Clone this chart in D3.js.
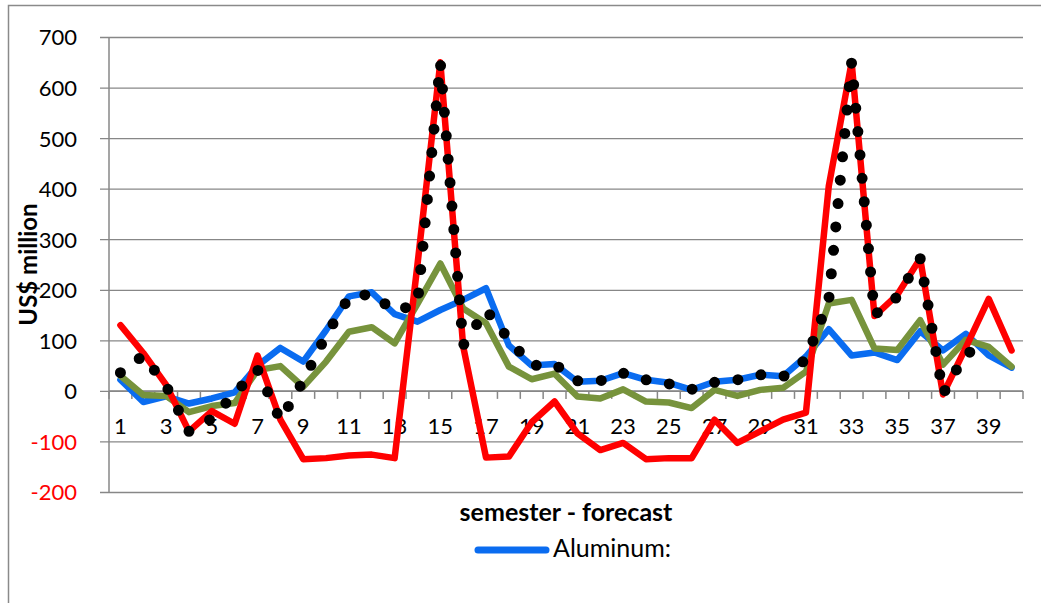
<!DOCTYPE html>
<html>
<head>
<meta charset="utf-8">
<script src="https://cdn.jsdelivr.net/npm/d3@7"></script>
<style>
  html, body { margin: 0; padding: 0; background: #fff; }
  svg { display: block; }
  text { font-family: Lato, "Open Sans", sans-serif; }
</style>
</head>
<body>
<svg id="chart" width="1041" height="603"></svg>
<script>
// ---- data ----
const categories = [1,2,3,4,5,6,7,8,9,10,11,12,13,14,15,16,17,18,19,20,
                    21,22,23,24,25,26,27,28,29,30,31,32,33,34,35,36,37,38,39,40];
const aluminum = [22,-22,-11,-25,-15,-3,50,85,58,120,187,195,152,137,160,180,203,90,50,53,
                  18,20,35,22,16,2,18,22,32,29,68,122,70,76,61,118,80,113,70,46];
const greenSeries = [30,-8,-10,-42,-30,-24,41,49,8,58,117,126,94,172,252,163,134,48,23,34,
                     -11,-15,3,-21,-23,-34,2,-10,2,6,38,173,180,84,81,140,52,101,87,48];
const redSeries = [130,75,12,-80,-40,-65,70,-57,-135,-133,-128,-126,-133,250,650,88,-132,-130,-62,-21,
                   -84,-117,-103,-135,-133,-133,-57,-103,-80,-57,-43,405,650,148,190,262,-7,86,182,80];
const dottedSeries = [36,70,10,-80,-55,-5,42,-58,20,110,185,192,158,172,650,90,160,102,50,53,
                      20,20,35,22,14,3,17,22,32,28,62,180,650,150,186,262,-6,75,84,null];
const yTicks = [-200,-100,0,100,200,300,400,500,600,700];
const xLabels = categories.filter(c => c % 2 === 1);
const yTitle = "US$ million";
const xTitle = "semester - forecast";
const legendLabel = "Aluminum:";

// ---- layout ----
const svg = d3.select("#chart");
const plot = {left: 109, right: 1023, top: 37, bottom: 492};
const gridColor = "#878787";

svg.append("rect").attr("x", 8.5).attr("y", 5.5).attr("width", 1200).attr("height", 800)
   .attr("fill", "none").attr("stroke", "#8a8a8a").attr("stroke-width", 1.5);

const x = d3.scaleBand().domain(categories).range([plot.left, plot.right]).padding(0);
const y = d3.scaleLinear().domain([-200, 700]).range([plot.bottom, plot.top]);
const cx = c => x(c) + x.bandwidth() / 2;

// gridlines + y axis
const yAxis = d3.axisLeft(y).tickValues(yTicks).tickSize(plot.right - plot.left + 9).tickFormat(d => d);
const gy = svg.append("g").attr("transform", `translate(${plot.right},0)`).call(yAxis);
gy.select(".domain").remove();
gy.selectAll(".tick line").attr("stroke", gridColor).attr("stroke-width", 1.3);
gy.selectAll(".tick text")
  .attr("x", -(plot.right - 77))
  .attr("dy", "0.36em")
  .style("font-size", "22px")
  .attr("fill", d => d < 0 ? "#ff0000" : "#000")
  .attr("text-anchor", "end");
svg.append("line").attr("x1", plot.left).attr("x2", plot.left)
   .attr("y1", plot.top).attr("y2", plot.bottom)
   .attr("stroke", gridColor).attr("stroke-width", 1.5);

// x axis at 0
const y0 = y(0);
svg.append("line").attr("x1", plot.left).attr("x2", plot.right).attr("y1", y0).attr("y2", y0)
   .attr("stroke", gridColor).attr("stroke-width", 1.5);
const boundaries = categories.map(c => x(c)).concat([plot.right]);
svg.append("g").selectAll("line").data(boundaries).join("line")
   .attr("x1", d => d).attr("x2", d => d).attr("y1", y0).attr("y2", y0 + 8)
   .attr("stroke", gridColor).attr("stroke-width", 1.5);
svg.append("g").selectAll("text").data(xLabels).join("text")
   .attr("x", d => cx(d)).attr("y", 434)
   .attr("text-anchor", "middle").style("font-size", "22px").attr("fill", "#000")
   .text(d => d);

// series
const line = d3.line().defined(d => d != null).x((d, i) => cx(categories[i])).y(d => y(d));
function drawSeries(data, color, width, dash) {
  const p = svg.append("path").datum(data).attr("d", line)
    .attr("fill", "none").attr("stroke", color).attr("stroke-width", width)
    .attr("stroke-linejoin", "round").attr("stroke-linecap", "round");
  if (dash) p.attr("stroke-dasharray", dash);
}
drawSeries(aluminum, "#0a6cf0", 6.5);
drawSeries(greenSeries, "#77933c", 6.5);
drawSeries(redSeries, "#ff0000", 6.5);
drawSeries(dottedSeries, "#000000", 11, "0 23.5");

// titles
svg.append("text").attr("transform", `translate(37,${(plot.top + plot.bottom) / 2}) rotate(-90)`)
   .attr("text-anchor", "middle").style("font-size", "24px").style("font-weight", "bold")
   .text(yTitle);
svg.append("text").attr("x", (plot.left + plot.right) / 2).attr("y", 521)
   .attr("text-anchor", "middle").style("font-size", "25px").style("font-weight", "bold")
   .text(xTitle);

// legend
svg.append("line").attr("x1", 478).attr("x2", 546).attr("y1", 550).attr("y2", 550)
   .attr("stroke", "#0a6cf0").attr("stroke-width", 7).attr("stroke-linecap", "round");
svg.append("text").attr("x", 553).attr("y", 557).style("font-size", "25px").text(legendLabel);
</script>
</body>
</html>
